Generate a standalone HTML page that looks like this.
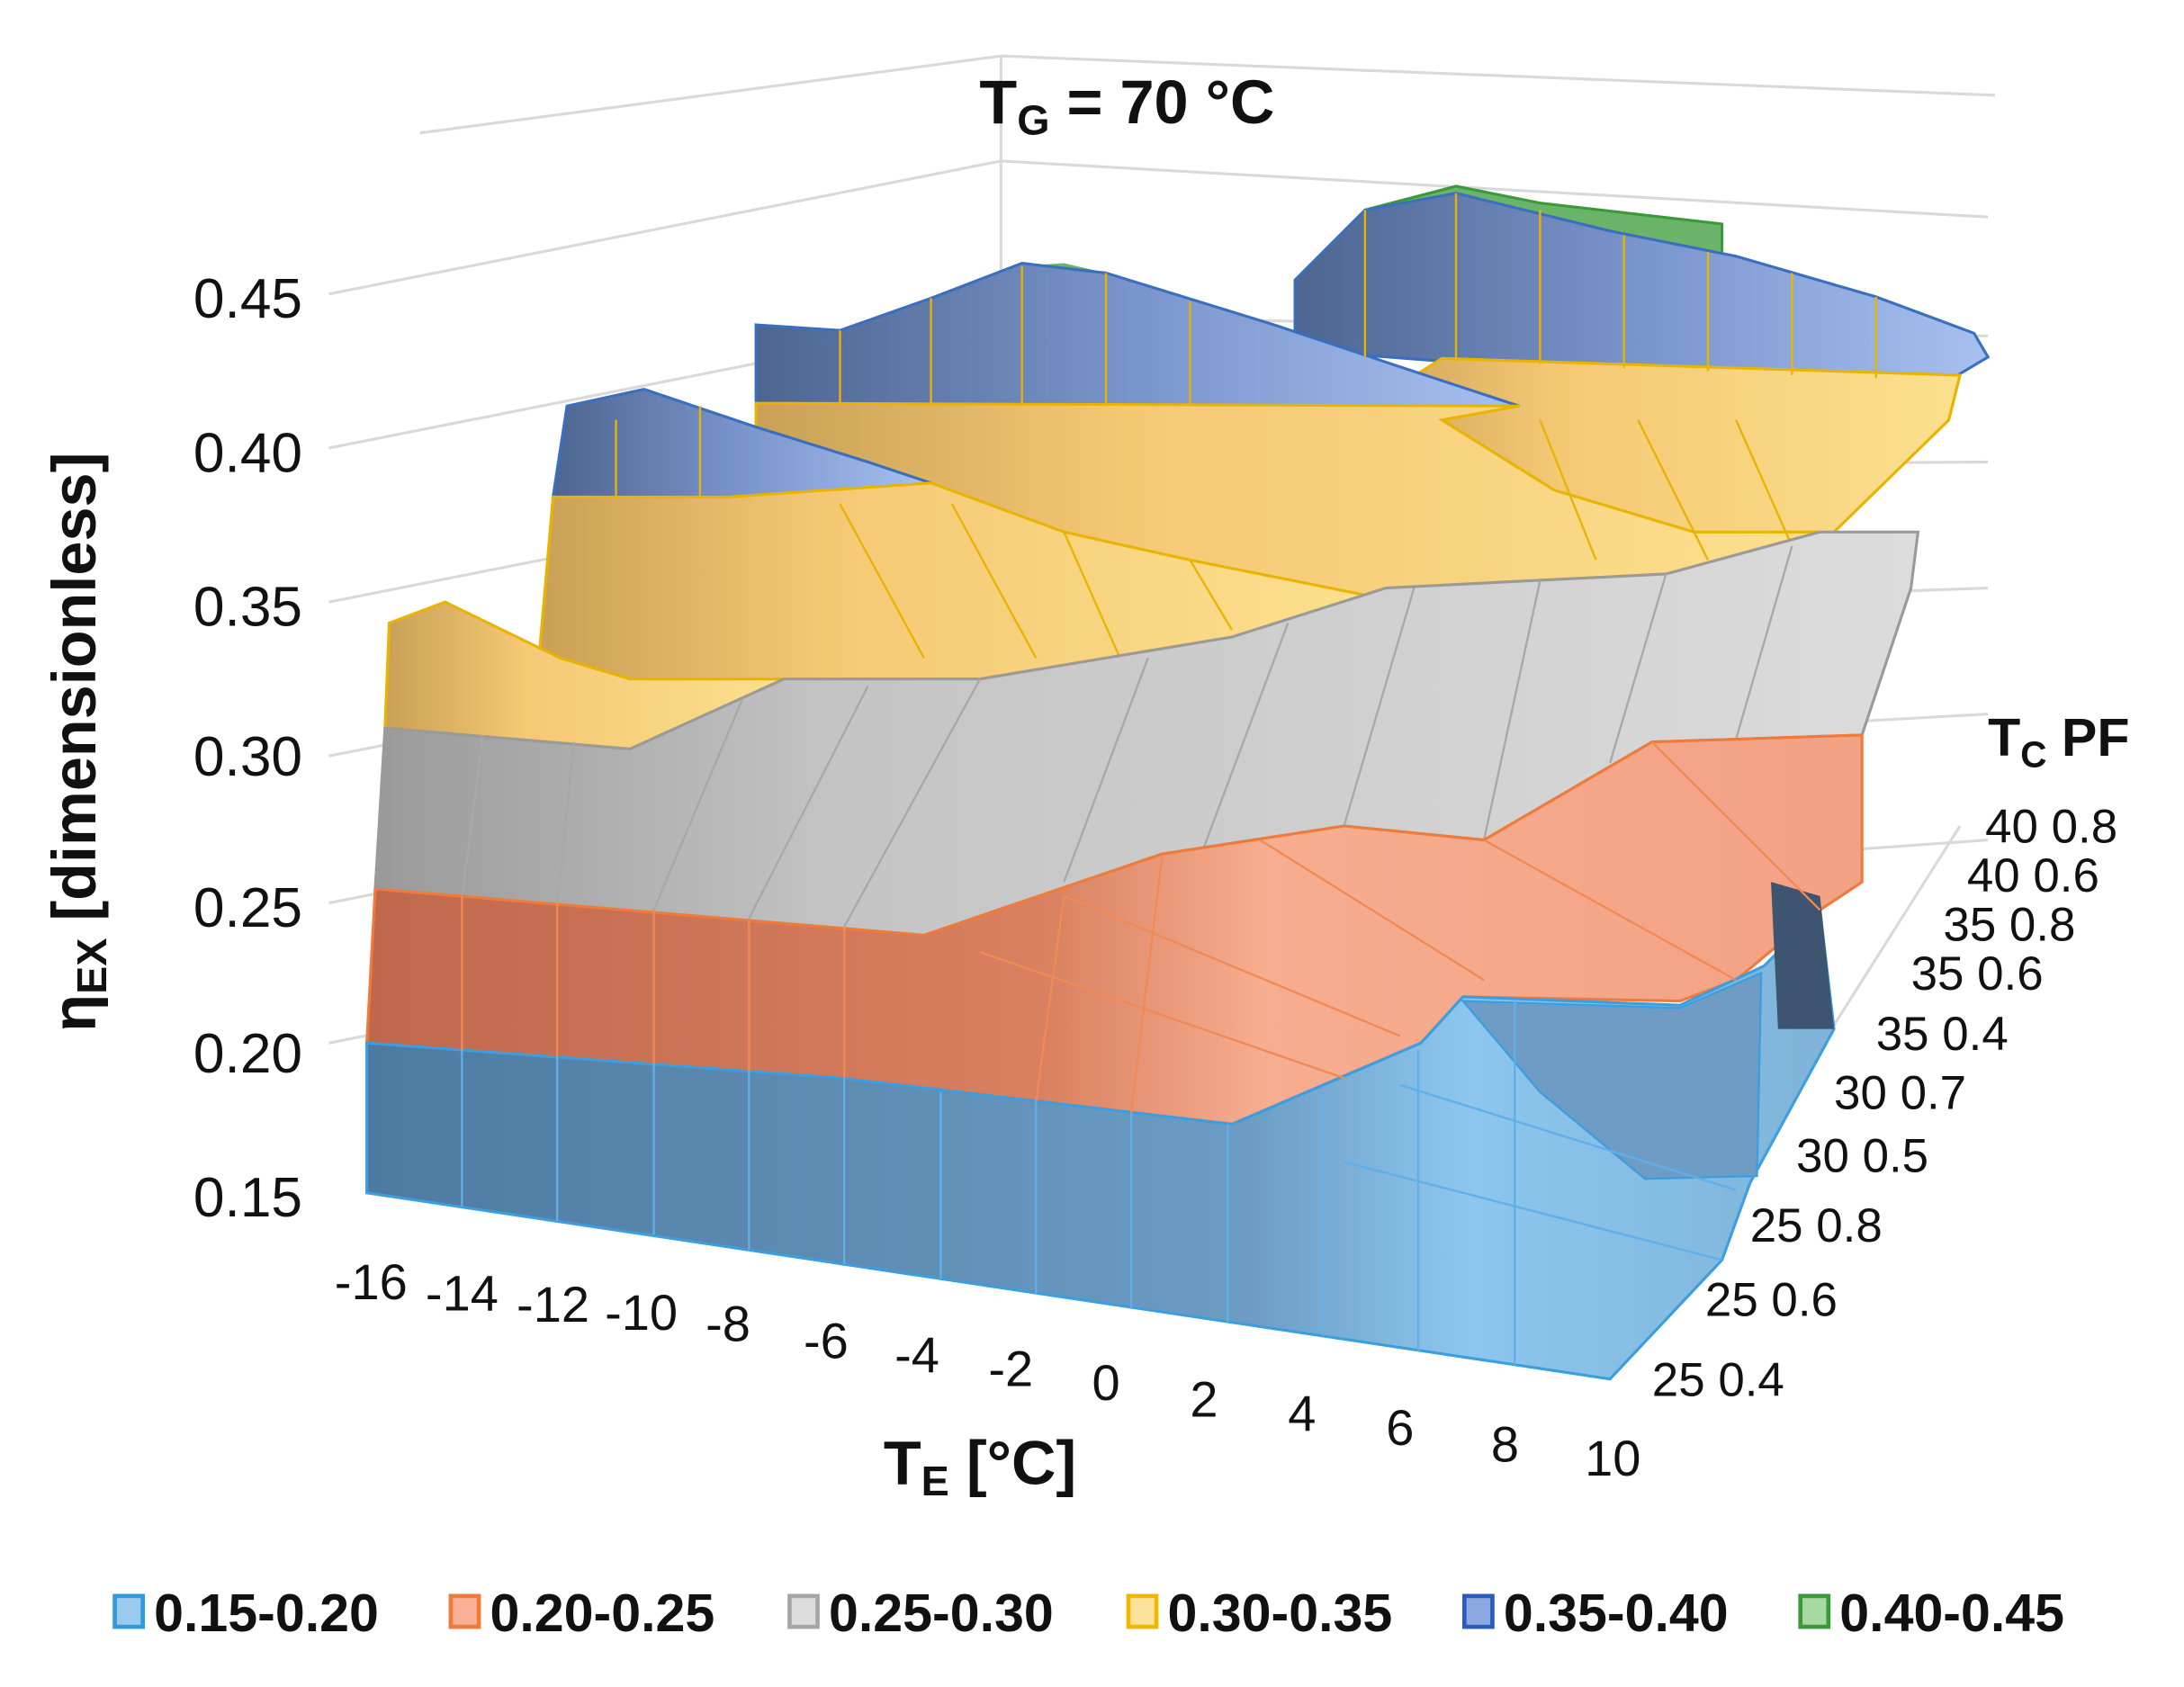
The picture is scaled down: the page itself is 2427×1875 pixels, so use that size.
<!DOCTYPE html>
<html><head><meta charset="utf-8"><style>
html,body{margin:0;padding:0;background:#fff;}
svg{display:block;}
text{font-family:"Liberation Sans",Arial,sans-serif;fill:#111;}
</style></head><body>
<svg width="2427" height="1875" viewBox="0 0 1560 1205" preserveAspectRatio="none" xmlns="http://www.w3.org/2000/svg">
<defs>
<linearGradient id="bf" x1="0" x2="1" y1="0" y2="0"><stop offset="0" stop-color="#4d7aa0"/><stop offset="0.6" stop-color="#6c9cc4"/><stop offset="0.75" stop-color="#8cc6ee"/><stop offset="1" stop-color="#7fb3d8"/></linearGradient>
<linearGradient id="of" x1="0" x2="1" y1="0" y2="0"><stop offset="0" stop-color="#c0684d"/><stop offset="0.45" stop-color="#d8805f"/><stop offset="0.6" stop-color="#f7ad8f"/><stop offset="1" stop-color="#f3a184"/></linearGradient>
<linearGradient id="gf" x1="0" x2="1" y1="0" y2="0"><stop offset="0" stop-color="#9a9a9a"/><stop offset="0.3" stop-color="#c4c4c4"/><stop offset="1" stop-color="#dcdcdc"/></linearGradient>
<linearGradient id="yf" x1="0" x2="1" y1="0" y2="0"><stop offset="0" stop-color="#c9a055"/><stop offset="0.35" stop-color="#f5c874"/><stop offset="1" stop-color="#fbe08e"/></linearGradient>
<linearGradient id="blt" x1="0" x2="1" y1="0" y2="0"><stop offset="0" stop-color="#4d6590"/><stop offset="0.5" stop-color="#7a95cc"/><stop offset="1" stop-color="#a7c0f0"/></linearGradient>
</defs>
<g stroke="#d9d9d9" stroke-width="2" fill="none">
<polyline points="300,95 715,40 1425,68"/>
<polyline points="235,210 715,115 1420,155"/>
<polyline points="235,320 715,225 1420,240"/>
<polyline points="235,430 715,335 1420,330"/>
<polyline points="235,540 715,445 1420,420"/>
<polyline points="235,645 715,550 1420,510"/>
<polyline points="235,745 715,650 1420,600"/>
<line x1="715" y1="40" x2="715" y2="660"/>
<line x1="1150" y1="985" x2="1400" y2="590"/>
</g>
<polygon points="975,150 1040,133 1100,145 1230,160 1230,200 975,200" fill="#6cb36a" stroke="#3a9a3a" stroke-width="2"/>
<polygon points="730,190 760,188 790,195 760,200" fill="#6cb36a"/>
<polygon points="925,200 975,150 1040,138 1150,165 1240,183 1340,212 1410,238 1420,255 1395,270 1310,272 1030,258 925,250" fill="url(#blt)" stroke="#3a6fc0" stroke-width="2"/>
<polygon points="1030,256 1400,268 1392,300 1310,380 1190,410 990,420 960,300" fill="url(#yf)" stroke="#e8b400" stroke-width="2"/>
<polygon points="540,232 600,236 665,213 730,188 790,195 910,232 1000,262 1085,290 1000,300 540,290" fill="url(#blt)" stroke="#3a6fc0" stroke-width="2"/>
<polygon points="540,288 1085,290 1030,300 1110,350 1210,380 1300,380 1190,410 990,420 880,455 700,485 560,485 540,460" fill="url(#yf)" stroke="#e8b400" stroke-width="2"/>
<polygon points="405,290 460,278 540,305 620,330 665,345 600,355 520,355 395,355" fill="url(#blt)" stroke="#3a6fc0" stroke-width="2"/>
<polygon points="395,355 520,355 665,345 760,380 850,400 975,425 880,455 700,485 560,485 450,535 410,515 385,470" fill="url(#yf)" stroke="#e8b400" stroke-width="2"/>
<polygon points="278,445 318,430 400,470 450,485 560,485 450,535 275,520" fill="url(#yf)" stroke="#e8b400" stroke-width="2"/>
<g stroke="#e8b400" stroke-width="1.5" fill="none">
<line x1="440" y1="300" x2="440" y2="355"/><line x1="500" y1="290" x2="500" y2="355"/><line x1="600" y1="236" x2="600" y2="290"/><line x1="665" y1="213" x2="665" y2="290"/><line x1="730" y1="190" x2="730" y2="290"/><line x1="790" y1="195" x2="790" y2="290"/><line x1="850" y1="215" x2="850" y2="290"/><line x1="975" y1="150" x2="975" y2="255"/><line x1="1040" y1="138" x2="1040" y2="258"/><line x1="1100" y1="150" x2="1100" y2="260"/><line x1="1160" y1="168" x2="1160" y2="263"/><line x1="1220" y1="180" x2="1220" y2="265"/><line x1="1280" y1="195" x2="1280" y2="268"/><line x1="1340" y1="212" x2="1340" y2="270"/>
<polyline points="600,360 660,470"/><polyline points="680,360 740,470"/><polyline points="760,380 800,470"/><polyline points="850,400 880,450"/><polyline points="1100,300 1140,400"/><polyline points="1170,300 1220,400"/><polyline points="1240,300 1280,390"/>
</g>
<polygon points="275,520 450,535 560,485 700,485 880,455 990,420 1190,410 1300,380 1370,380 1365,420 1330,525 1180,530 1060,600 960,590 830,610 660,668 268,635" fill="url(#gf)" stroke="#9a9a9a" stroke-width="2"/>
<g stroke="#a8a8a8" stroke-width="1.5">
<line x1="330" y1="640" x2="345" y2="525"/><line x1="398" y1="645" x2="410" y2="530"/><line x1="467" y1="650" x2="530" y2="500"/><line x1="535" y1="656" x2="620" y2="490"/><line x1="603" y1="662" x2="700" y2="485"/>
<line x1="760" y1="630" x2="820" y2="470"/><line x1="860" y1="605" x2="920" y2="445"/><line x1="960" y1="590" x2="1010" y2="420"/><line x1="1060" y1="600" x2="1100" y2="415"/><line x1="1150" y1="545" x2="1190" y2="410"/><line x1="1240" y1="528" x2="1280" y2="390"/>
</g>
<polygon points="268,635 660,668 830,610 960,590 1060,600 1180,530 1330,525 1330,630 1300,650 1240,700 1200,715 1045,712 1015,745 880,803 600,770 262,745" fill="url(#of)" stroke="#f07a3a" stroke-width="2"/>
<polygon points="262,745 600,770 880,803 1015,745 1045,712 1200,718 1260,690 1300,650 1310,735 1250,845 1230,900 1150,985 262,852" fill="url(#bf)" stroke="#3a9ee0" stroke-width="2"/>
<polygon points="1045,715 1200,720 1258,695 1255,840 1175,842 1100,780" fill="#6f9cc4" stroke="#3a9ee0" stroke-width="1.5"/>
<polygon points="1265,630 1300,640 1310,735 1270,735" fill="#3d5570"/>
<g stroke="#5fb0ea" stroke-width="1.5">
<line x1="330" y1="862" x2="330" y2="750"/><line x1="398" y1="872" x2="398" y2="755"/><line x1="467" y1="882" x2="467" y2="760"/><line x1="535" y1="893" x2="535" y2="765"/><line x1="603" y1="903" x2="603" y2="770"/><line x1="672" y1="913" x2="672" y2="780"/><line x1="740" y1="924" x2="740" y2="787"/><line x1="808" y1="934" x2="808" y2="795"/><line x1="877" y1="944" x2="877" y2="803"/><line x1="945" y1="954" x2="945" y2="780"/><line x1="1013" y1="965" x2="1013" y2="750"/><line x1="1082" y1="975" x2="1082" y2="715"/>
<line x1="960" y1="830" x2="1230" y2="900"/><line x1="1000" y1="775" x2="1240" y2="850"/>
</g>
<g stroke="#f08a55" stroke-width="1.5">
<line x1="330" y1="750" x2="330" y2="640"/><line x1="398" y1="755" x2="398" y2="645"/><line x1="467" y1="760" x2="467" y2="650"/><line x1="535" y1="765" x2="535" y2="656"/><line x1="603" y1="770" x2="603" y2="662"/><line x1="740" y1="787" x2="760" y2="640"/><line x1="808" y1="795" x2="830" y2="612"/>
<line x1="700" y1="680" x2="960" y2="770"/><line x1="760" y1="640" x2="1000" y2="740"/><line x1="900" y1="600" x2="1060" y2="700"/><line x1="1060" y1="600" x2="1240" y2="700"/><line x1="1180" y1="530" x2="1300" y2="650"/>
</g>
<g font-size="40" text-anchor="end">
<text x="216" y="227">0.45</text><text x="216" y="337">0.40</text><text x="216" y="447">0.35</text><text x="216" y="554">0.30</text><text x="216" y="662">0.25</text><text x="216" y="766">0.20</text><text x="216" y="869">0.15</text>
</g>
<text transform="translate(68,530) rotate(-90)" font-size="44" font-weight="bold" text-anchor="middle">η<tspan font-size="30" dy="8">EX</tspan><tspan dy="-8"> [dimensionless]</tspan></text>
<g font-size="36" text-anchor="middle">
<text x="265" y="928">-16</text><text x="330" y="936">-14</text><text x="395" y="944">-12</text><text x="458" y="950">-10</text><text x="520" y="958">-8</text><text x="590" y="970">-6</text><text x="655" y="980">-4</text><text x="722" y="990">-2</text><text x="790" y="1000">0</text><text x="860" y="1012">2</text><text x="930" y="1022">4</text><text x="1000" y="1032">6</text><text x="1075" y="1044">8</text><text x="1152" y="1054">10</text>
</g>
<text x="700" y="1060" font-size="44" font-weight="bold" text-anchor="middle">T<tspan font-size="30" dy="8">E</tspan><tspan dy="-8"> [°C]</tspan></text>
<g font-size="34">
<text x="1418" y="602">40 0.8</text><text x="1405" y="637">40 0.6</text><text x="1388" y="672">35 0.8</text><text x="1365" y="707">35 0.6</text><text x="1340" y="750">35 0.4</text><text x="1310" y="792">30 0.7</text><text x="1283" y="837">30 0.5</text><text x="1250" y="887">25 0.8</text><text x="1218" y="940">25 0.6</text><text x="1180" y="997">25 0.4</text>
</g>
<text x="1420" y="540" font-size="38" font-weight="bold">T<tspan font-size="26" dy="8">C</tspan><tspan dy="-8">  PF</tspan></text>
<text x="805" y="88" font-size="44" font-weight="bold" text-anchor="middle">T<tspan font-size="30" dy="8">G</tspan><tspan dy="-8"> = 70 °C</tspan></text>
<g font-size="38" font-weight="bold">
<rect x="82" y="1140" width="20" height="22" fill="#9cc9ee" stroke="#2f9ae0" stroke-width="3"/><text x="110" y="1165">0.15-0.20</text>
<rect x="322" y="1140" width="20" height="22" fill="#f8b195" stroke="#f07a3a" stroke-width="3"/><text x="350" y="1165">0.20-0.25</text>
<rect x="564" y="1140" width="20" height="22" fill="#dcdcdc" stroke="#a5a5a5" stroke-width="3"/><text x="592" y="1165">0.25-0.30</text>
<rect x="806" y="1140" width="20" height="22" fill="#fde29b" stroke="#f0b800" stroke-width="3"/><text x="834" y="1165">0.30-0.35</text>
<rect x="1046" y="1140" width="20" height="22" fill="#8ea9e0" stroke="#2a5cc0" stroke-width="3"/><text x="1074" y="1165">0.35-0.40</text>
<rect x="1286" y="1140" width="20" height="22" fill="#a9d8a2" stroke="#3a9a3a" stroke-width="3"/><text x="1314" y="1165">0.40-0.45</text>
</g>
</svg>
</body></html>
